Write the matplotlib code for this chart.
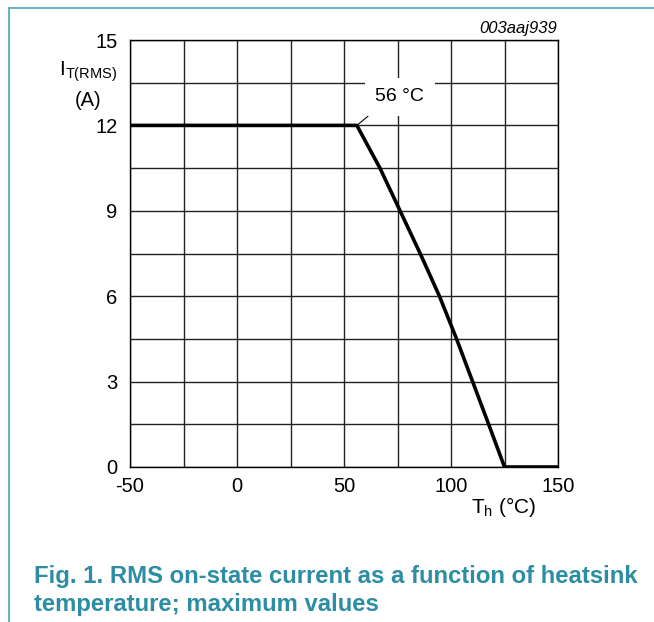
import matplotlib
matplotlib.use("Agg")
import matplotlib.pyplot as plt
from matplotlib.lines import Line2D

plt.rcParams['font.family'] = ['Liberation Sans', 'DejaVu Sans']

# data
temp = [-50, 56, 66.8, 76.2, 85.6, 94.6, 102.6, 110.1, 117.6, 125, 150]
current = [12, 12, 10.5, 9, 7.5, 6, 4.5, 3, 1.5, 0, 0]
x_ticks = [-50, 0, 50, 100, 150]
y_ticks = [0, 3, 6, 9, 12, 15]
x_grid = [-50, -25, 0, 25, 50, 75, 100, 125, 150]
y_grid = [0, 1.5, 3, 4.5, 6, 7.5, 9, 10.5, 12, 13.5, 15]

teal = '#2c8da3'

fig = plt.figure(figsize=(6.54, 6.22), dpi=100)
ax = fig.add_axes([130/654, 1-467/622, 428/654, 427/622])
ax.set_xlim(-50, 150)
ax.set_ylim(0, 15)
for g in x_grid:
    ax.axvline(g, color='#222222', lw=1.0, zorder=1)
for g in y_grid:
    ax.axhline(g, color='#222222', lw=1.0, zorder=1)
ax.plot(temp, current, color='black', lw=2.6, zorder=3, solid_joinstyle='round')
for s in ax.spines.values():
    s.set_linewidth(1.0)
ax.set_xticks(x_ticks)
ax.set_yticks(y_ticks)
ax.set_xticklabels([str(v) for v in x_ticks])
ax.tick_params(length=0, labelsize=14.5, pad=7)
ax.tick_params(axis='y', pad=9)

# annotation
ax.annotate('56 °C', xy=(56, 12), xytext=(76, 13.0), fontsize=14,
            ha='center', va='center', zorder=5,
            bbox=dict(boxstyle='square,pad=0.55', fc='white', ec='none'),
            arrowprops=dict(arrowstyle='-', color='black', lw=0.8,
                            shrinkA=0, shrinkB=0, relpos=(0.12, 0.0)))

# axis labels
fig.text(88/654, 1-72/622, r'I$_{\mathregular{T(RMS)}}$', fontsize=15, ha='center', va='center')
fig.text(88/654, 1-100/622, '(A)', fontsize=14.5, ha='center', va='center')
fig.text(504/654, 1-507/622, r'T$_{\mathregular{h}}$ (°C)', fontsize=15, ha='center', va='center')
fig.text(557/654, 1-29/622, '003aaj939', fontsize=12, style='italic', ha='right', va='center')

# frame lines
fig.add_artist(Line2D([9/654, 9/654], [0, 1-8/622], transform=fig.transFigure, color='#4ba5b9', lw=1.2))
fig.add_artist(Line2D([9/654, 1], [1-8/622, 1-8/622], transform=fig.transFigure, color='#4ba5b9', lw=1.2))

# caption
fig.text(34/654, 1-577/622, 'Fig. 1. RMS on-state current as a function of heatsink',
         fontsize=17.2, fontweight='bold', color=teal, ha='left', va='center')
fig.text(34/654, 1-604/622, 'temperature; maximum values',
         fontsize=17.2, fontweight='bold', color=teal, ha='left', va='center')

fig.savefig('out.png', dpi=100)
